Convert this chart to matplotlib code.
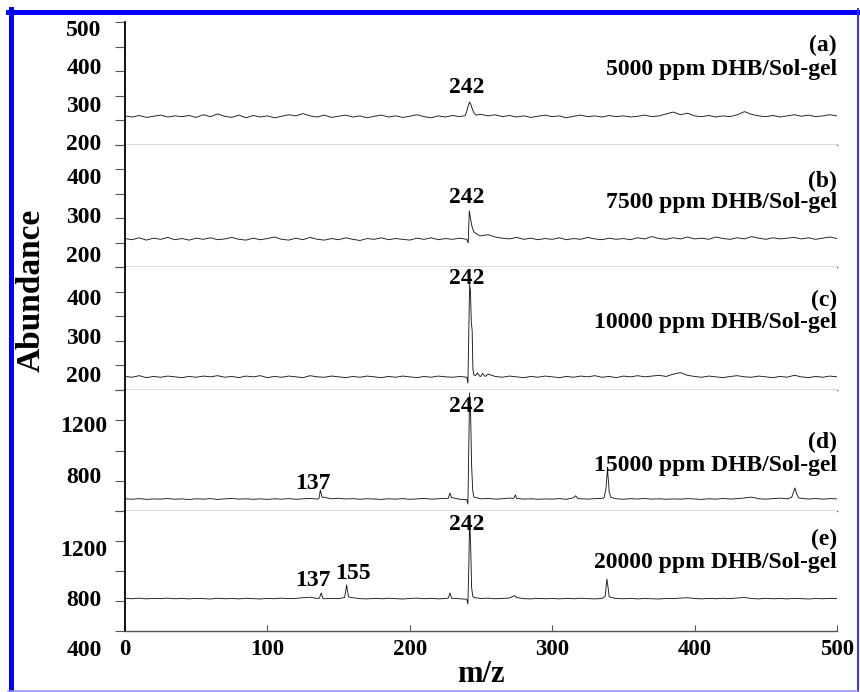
import matplotlib
matplotlib.use("Agg")
import matplotlib.pyplot as plt
import matplotlib.transforms as mtransforms
from matplotlib.lines import Line2D
import numpy as np

plt.rcParams['font.family'] = ['Liberation Serif', 'DejaVu Serif']
plt.rcParams['font.weight'] = 'bold'

# m/z grid for the baseline readings (every 5 units)
mz_grid = list(range(0, 501, 5))

# baseline readings per spectrum (one value per grid point)
a_base = [276, 273, 277, 272, 275, 278, 273, 276, 274, 277,
          272, 279, 274, 281, 275, 272, 278, 271, 277, 273,
          276, 271, 275, 279, 276, 282, 276, 273, 278, 272,
          275, 278, 273, 276, 271, 275, 278, 273, 276, 272,
          275, 279, 274, 271, 276, 273, 277, 274, 288, 284,
          280, 276, 279, 274, 277, 273, 276, 272, 275, 278,
          274, 276, 271, 275, 278, 274, 276, 273, 277, 274,
          276, 273, 275, 278, 274, 276, 281, 286, 279, 283,
          276, 274, 277, 273, 276, 274, 279, 287, 280, 276,
          274, 277, 273, 276, 279, 275, 278, 274, 276, 279, 276]
b_base = [247, 244, 249, 243, 248, 245, 250, 244, 247, 243,
          248, 245, 249, 244, 246, 250, 245, 243, 248, 244,
          247, 251, 245, 243, 248, 244, 250, 245, 243, 247,
          244, 249, 245, 242, 247, 245, 249, 244, 247, 245,
          243, 248, 245, 249, 244, 247, 245, 248, 245, 264,
          254, 257, 251, 248, 246, 250, 245, 248, 244, 247,
          245, 249, 244, 247, 245, 250, 246, 244, 248, 245,
          247, 244, 249, 246, 252, 247, 245, 249, 246, 251,
          246, 248, 245, 251, 247, 245, 249, 246, 252, 248,
          245, 249, 246, 248, 250, 246, 249, 245, 248, 251, 247]
c_base = [201, 199, 203, 198, 201, 199, 202, 200, 198, 201,
          199, 202, 200, 203, 199, 201, 198, 202, 200, 203,
          198, 201, 199, 202, 200, 198, 203, 200, 199, 202,
          200, 198, 201, 199, 202, 200, 198, 201, 199, 202,
          200, 198, 201, 199, 202, 200, 199, 201, 199, 205,
          201, 207, 201, 199, 202, 200, 198, 201, 199, 202,
          200, 198, 201, 199, 202, 200, 203, 199, 201, 198,
          202, 200, 203, 200, 202, 204, 201, 207, 211, 204,
          201, 199, 202, 200, 198, 201, 203, 200, 199, 202,
          200, 198, 201, 199, 204, 200, 198, 201, 199, 202, 200]
d_base = [637, 633, 638, 632, 636, 634, 639, 633, 636, 631,
          637, 634, 638, 632, 636, 639, 634, 637, 633, 636,
          632, 637, 634, 638, 633, 636, 640, 634, 648, 637,
          641, 635, 638, 633, 637, 635, 632, 637, 634, 638,
          633, 636, 640, 634, 637, 640, 645, 633, 630, 650,
          636, 640, 634, 637, 642, 640, 634, 637, 633, 636,
          634, 638, 633, 645, 637, 634, 638, 640, 690, 637,
          633, 638, 635, 639, 634, 637, 633, 636, 634, 638,
          635, 632, 637, 634, 639, 635, 638, 643, 650, 637,
          634, 638, 642, 636, 705, 640, 635, 639, 634, 638, 636]
e_base = [814, 810, 815, 809, 813, 811, 815, 810, 812, 809,
          813, 811, 808, 814, 810, 812, 809, 814, 811, 808,
          813, 810, 815, 811, 813, 818, 822, 812, 810, 813,
          811, 870, 818, 811, 809, 813, 810, 814, 811, 808,
          812, 815, 810, 813, 809, 812, 814, 810, 806, 820,
          812, 815, 810, 813, 816, 820, 811, 809, 813, 810,
          812, 809, 813, 810, 814, 811, 809, 812, 825, 812,
          810, 813, 809, 812, 810, 808, 813, 811, 815, 818,
          812, 809, 813, 810, 814, 811, 816, 820, 812, 809,
          813, 810, 812, 809, 813, 811, 808, 812, 810, 813, 811]

# peak readings (m/z, abundance) between the grid points
a_peak_mz = [239, 241, 242, 243, 244, 246.5]
a_peak_y = [277, 302, 312, 305, 293, 278]
b_peak_mz = [241, 241.8, 242.6, 243.4, 244.2, 246.5, 248]
b_peak_y = [236, 318, 300, 282, 272, 260, 256]
c_peak_mz = [240.8, 241.5, 242, 242.6, 243.2, 243.8, 244.3, 246, 247.5, 249, 251, 253]
c_peak_y = [184, 330, 439, 420, 340, 320, 220, 203, 210, 202, 209, 201]
d_peak_mz = [136.2, 137.2, 138.3, 227, 228.2, 229.4, 240.8, 241.5, 242, 242.7, 243.4, 244.2,
             273, 274.2, 316.5, 318, 336.5, 337.8, 338.8, 339.6, 341.2,
             468.2, 469.6, 470.5, 471.5, 473]
d_peak_y = [638, 706, 650, 640, 682, 645, 596, 1100, 1467, 1300, 900, 700,
            640, 667, 660, 638, 645, 720, 871, 760, 648,
            648, 695, 722, 680, 645]
e_peak_mz = [136.5, 137.8, 139, 154.2, 155.6, 157, 227, 228.2, 229.4,
             240.8, 241.5, 242, 242.7, 243.4, 244.2, 273.5, 337.2, 338.4, 339.6]
e_peak_y = [815, 856, 812, 820, 920, 825, 815, 856, 812,
            768, 1100, 1450, 1250, 900, 830, 835, 830, 968, 870]

panel_tags = ['(a)', '(b)', '(c)', '(d)', '(e)']
panel_names = ['5000 ppm DHB/Sol-gel', '7500 ppm DHB/Sol-gel', '10000 ppm DHB/Sol-gel',
               '15000 ppm DHB/Sol-gel', '20000 ppm DHB/Sol-gel']
panel_ylims = [(200, 521), (174, 487), (166, 484), (541, 1490), (552, 1512)]
panel_ylabels = [[500, 400, 300, 200], [400, 300, 200], [400, 300, 200], [1200, 800], [1200, 800, 400]]
panel_nticks = [6, 6, 6, 5, 5]
x_ticks = [0, 100, 200, 300, 400, 500]

bases = [a_base, b_base, c_base, d_base, e_base]
peaks = [(a_peak_mz, a_peak_y), (b_peak_mz, b_peak_y), (c_peak_mz, c_peak_y),
         (d_peak_mz, d_peak_y), (e_peak_mz, e_peak_y)]

W, H = 860, 692
tops = [22, 145, 267, 390, 511]
bots = [145, 267, 390, 511, 631]

# label placement (axes fraction) for peak and panel texts
tag_y = [0.813, 0.70, 0.73, 0.565, 0.76]
name_y = [0.61, 0.53, 0.545, 0.38, 0.57]
lbl242_y = [0.47, 0.566, 0.91, 0.86, 0.89]

fig = plt.figure(figsize=(W / 100, H / 100), dpi=100)

axes = []
for i in range(5):
    ax = fig.add_axes([125 / W, 1 - bots[i] / H, 712 / W, (bots[i] - tops[i]) / H])
    axes.append(ax)

    # merge grid baseline with peak readings
    xs = np.array(mz_grid + list(peaks[i][0]), dtype=float)
    ys = np.array(bases[i] + list(peaks[i][1]), dtype=float)
    order = np.argsort(xs, kind='stable')
    ax.plot(xs[order], ys[order], color='#1a1a1a', lw=0.65)

    ax.set_xlim(0, 500)
    ax.set_ylim(*panel_ylims[i])
    for s in ['top', 'right']:
        ax.spines[s].set_visible(False)
    ax.spines['left'].set_linewidth(1.3)
    ax.spines['left'].set_color('black')
    ax.spines['bottom'].set_linewidth(1.0)
    ax.spines['bottom'].set_color('#555555')

    lo, hi = panel_ylims[i]
    ax.set_yticks(np.linspace(lo, hi, panel_nticks[i]))
    ax.tick_params(axis='y', direction='out', length=7, width=0.8, color='#555555',
                   labelleft=False)

    trans = mtransforms.blended_transform_factory(fig.transFigure, ax.transData)
    for v in panel_ylabels[i]:
        ax.text(84 / W, v, str(v), transform=trans, ha='center', va='center',
                fontsize=17, fontweight='bold', clip_on=False)

    xt = ax.get_xaxis_transform()
    ax.text(500, tag_y[i], panel_tags[i], transform=xt, ha='right', va='center',
            fontsize=17, fontweight='bold')
    ax.text(500, name_y[i], panel_names[i], transform=xt, ha='right', va='center',
            fontsize=17, fontweight='bold')
    ax.text(240, lbl242_y[i], '242', transform=xt, ha='center', va='center',
            fontsize=17, fontweight='bold')

    if i < 4:
        ax.tick_params(axis='x', bottom=False, labelbottom=False)
    else:
        ax.set_xticks(x_ticks)
        ax.tick_params(axis='x', direction='in', length=4, width=0.8, color='#555555',
                       labelsize=16.5, pad=6)
        for lbl in ax.get_xticklabels():
            lbl.set_fontweight('bold')

# extra fragment labels
axes[3].text(132, 0.23, '137', transform=axes[3].get_xaxis_transform(), ha='center',
             va='center', fontsize=17, fontweight='bold')
axes[4].text(132, 0.425, '137', transform=axes[4].get_xaxis_transform(), ha='center',
             va='center', fontsize=17, fontweight='bold')
axes[4].text(160, 0.483, '155', transform=axes[4].get_xaxis_transform(), ha='center',
             va='center', fontsize=17, fontweight='bold')

fig.text(31 / W, 1 - 290 / H, 'Abundance', rotation=90, ha='center', va='center',
         fontsize=24, fontweight='bold')
fig.text(481 / W, 1 - 674 / H, 'm/z', ha='center', va='center',
         fontsize=22, fontweight='bold')

# blue frame around the figure
fig.add_artist(Line2D([10.5 / W, 10.5 / W], [0, 1 - 9 / H], transform=fig.transFigure,
                      color='#0000ff', lw=3.6))
fig.add_artist(Line2D([8 / W, 858 / W], [1 - 11.5 / H, 1 - 11.5 / H], transform=fig.transFigure,
                      color='#0000ff', lw=3.6))
fig.add_artist(Line2D([857.5 / W, 857.5 / W], [1 / H, 1 - 9 / H], transform=fig.transFigure,
                      color='#3030ff', lw=1.4))
fig.add_artist(Line2D([8 / W, 858 / W], [1.5 / H, 1.5 / H], transform=fig.transFigure,
                      color='#9090ff', lw=1.1))

fig.savefig('out.png', dpi=100)
